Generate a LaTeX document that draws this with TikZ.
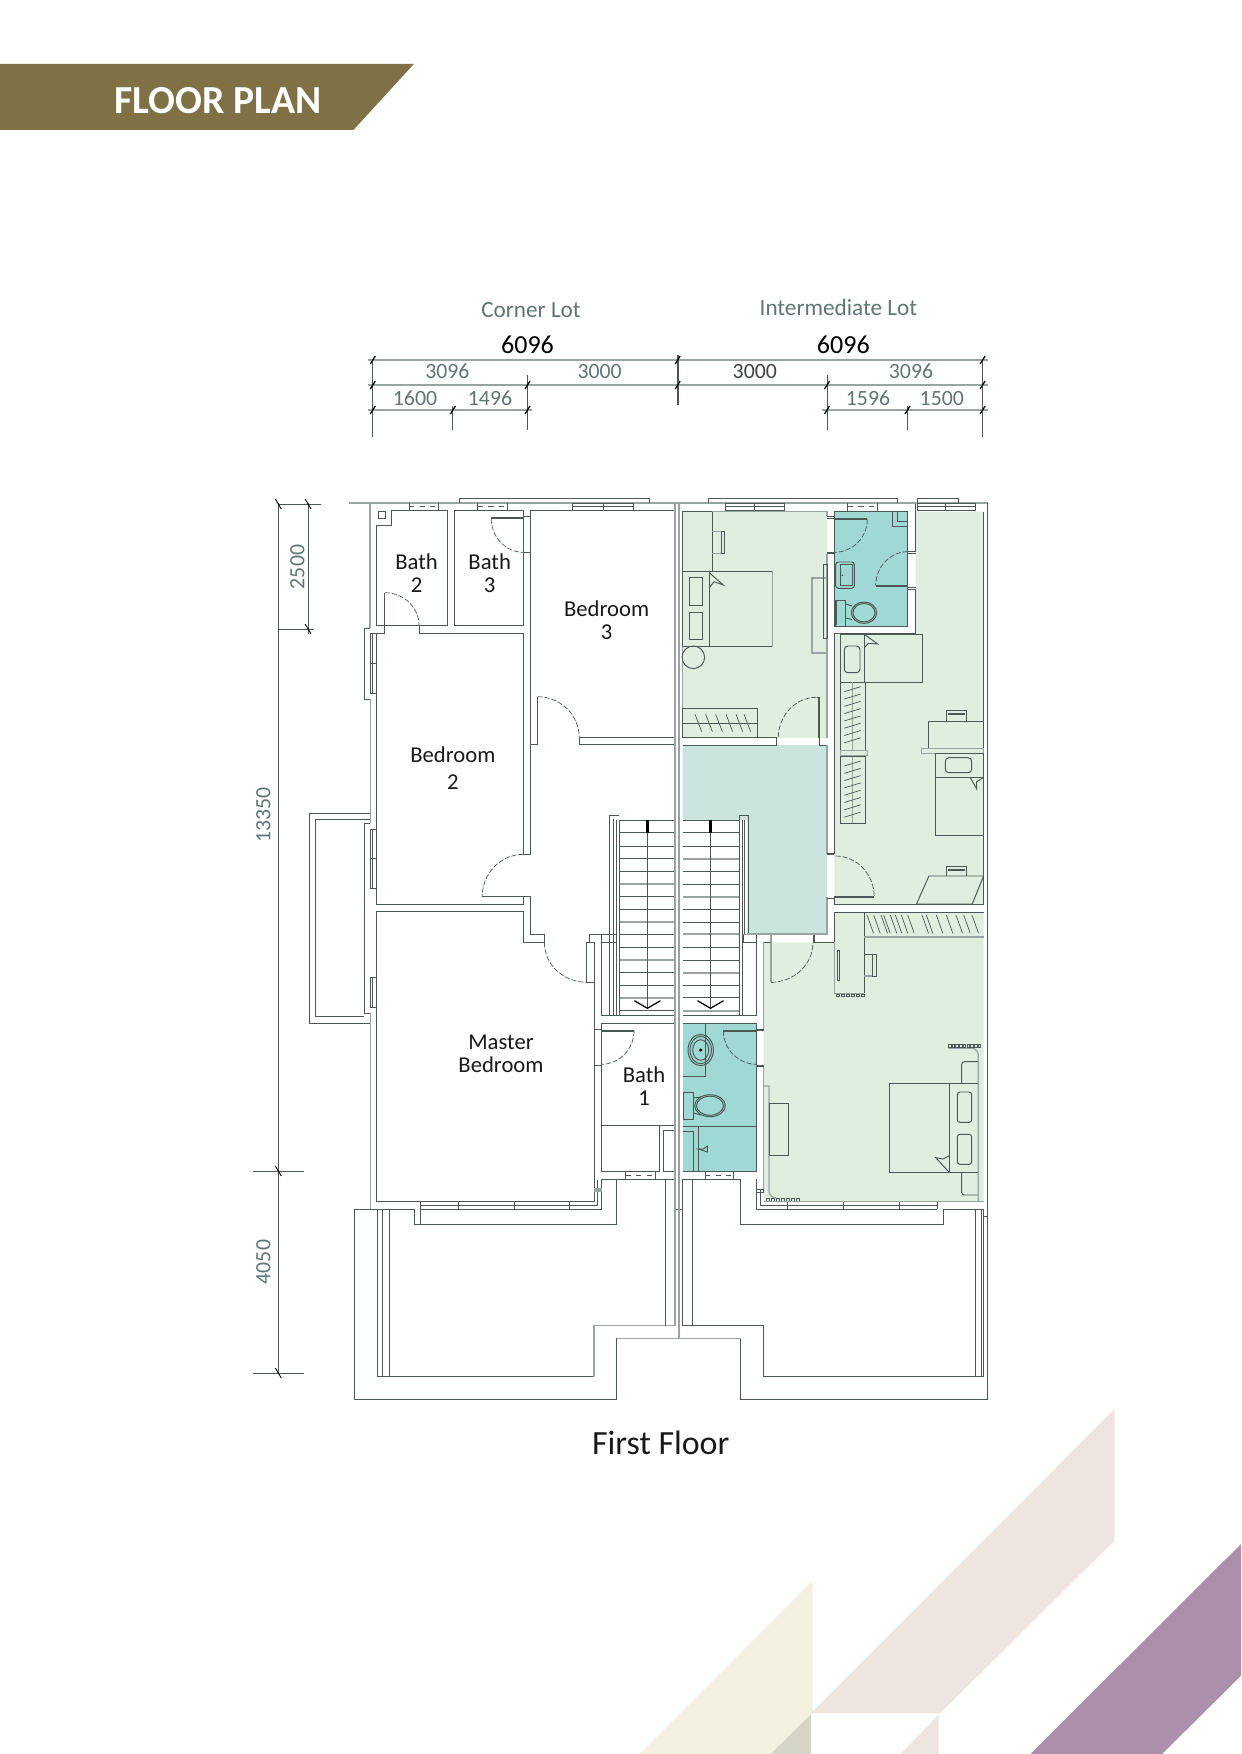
\documentclass[tikz,border=0pt]{standalone}
\usepackage{fontspec}
\setmainfont{Carlito}
\definecolor{bannergold}{HTML}{7F7145}
\definecolor{dimtextgrey}{HTML}{5F7576}
\definecolor{walldark}{HTML}{4A5856}
\definecolor{wallgrey}{HTML}{9AA5A1}
\definecolor{roomgreen}{HTML}{E0EEE0}
\definecolor{halltint}{HTML}{CCE4DE}
\definecolor{bathteal}{HTML}{A0D8D4}
\definecolor{decopink}{HTML}{EEE4E0}
\definecolor{decocream}{HTML}{F4F0DF}
\definecolor{decosage}{HTML}{D5D6C8}
\definecolor{decopurple}{HTML}{AB8FAB}
\begin{document}
\begin{tikzpicture}[x=0.02cm,y=-0.02cm,inner sep=0pt,outer sep=0pt,
wall/.style={draw=walldark,line width=.55pt},
greywall/.style={draw=wallgrey,line width=1pt},
thickleaf/.style={draw=walldark,line width=1.1pt},
doorarc/.style={draw=walldark,line width=.4pt,dash pattern=on 3pt off 1pt},
dimline/.style={draw=wallgrey,line width=1pt},
dimdrop/.style={draw=walldark,line width=.5pt},
dimtick/.style={draw=black,line width=.7pt},
dimtext/.style={text=dimtextgrey,text height=7.8pt,text depth=0pt,font=\fontsize{12.4}{14}\selectfont},
roomtext/.style={text=black!90,align=center,font=\fontsize{12.9}{13}\selectfont},
lottext/.style={text=dimtextgrey,font=\fontsize{13.2}{15}\selectfont}]
\useasboundingbox (0,0) rectangle (1241,1754);
% background shapes
\fill[decocream] (812.6,1580.7) -- (812.6,1713.3) -- (770.5,1754) -- (639.7,1754) -- cycle;
\fill[decopink] (1114.3,1409.3) -- (1114.3,1540.7) -- (940.1,1713.3) -- (810.9,1713.3) -- cycle;
\fill[decosage] (811,1714.3) -- (811,1754) -- (770.5,1754) -- cycle;
\fill[decopink] (938.5,1715) -- (938.5,1754) -- (900.5,1754) -- cycle;
\fill[decopurple] (1241,1544) -- (1241,1675.7) -- (1162,1754) -- (1030.5,1754) -- cycle;
% banner
\fill[bannergold] (0,63.8) -- (414,63.8) -- (353.6,129.8) -- (0,129.8) -- cycle;
\node[text=white,font=\bfseries\fontsize{22.6}{24}\selectfont] (bannertext) at (218,100.5) {FLOOR PLAN};
% room tints
\fill[roomgreen] (682.7,511.7) rectangle (827,737.7);
\fill[roomgreen] (915.7,511.7) -- (983.7,511.7) -- (983.7,904) -- (834.4,904) -- (834.4,634.3) -- (915.7,634.3) -- cycle;
\fill[roomgreen] (834.4,912.3) -- (983.7,912.3) -- (983.7,1201.7) -- (763.7,1201.7) -- (763.7,942.3) -- (834.4,942.3) -- cycle;
\fill[halltint] (682.7,745) -- (827,745) -- (827,934.3) -- (747.4,934.3) -- (747.4,820) -- (682.7,820) -- cycle;
\fill[bathteal] (834.4,511.7) rectangle (907.7,626.7);
\fill[bathteal] (682.7,1023.7) rectangle (756.7,1171.7);
% dimensions on top
\node[lottext] (cornerlot) at (531,310) {Corner Lot};
\node[lottext] (interlot) at (838.4,308) {Intermediate Lot};
\node[text=black,font=\fontsize{14.8}{16}\selectfont] (widthcorner) at (527.5,345) {6096};
\node[text=black,font=\fontsize{14.8}{16}\selectfont] (widthinter) at (843.3,345) {6096};
\node[dimtext] at (447.4,372) {3096};
\node[dimtext] at (599.6,372) {3000};
\node[dimtext,text=walldark!80!black] at (754.8,372) {3000};
\node[dimtext] at (911,372) {3096};
\node[dimtext] at (415,399) {1600};
\node[dimtext] at (490,399) {1496};
\node[dimtext] at (868,399) {1596};
\node[dimtext] at (941.8,399) {1500};
\draw[dimline] (368,360) -- (987.6,360);
\draw[dimline] (368,385) -- (987.6,385);
\draw[dimline] (368,410) -- (532,410);
\draw[dimline] (822,410) -- (987.6,410);
\draw[dimdrop] (372.8,360) -- (372.8,437);
\draw[dimdrop] (452.9,406) -- (452.9,430);
\draw[dimdrop] (527.5,375) -- (527.5,430);
\draw[dimdrop,line width=1pt] (677.7,355) -- (677.7,405);
\draw[dimdrop] (827,375) -- (827,430);
\draw[dimdrop] (907.5,406) -- (907.5,430);
\draw[dimdrop] (982.6,360) -- (982.6,437);
\foreach \tx/\ty in {372.8/360,677.7/360,982.6/360,372.8/385,527.5/385,677.7/385,827/385,982.6/385,372.8/410,452.9/410,527.5/410,827/410,907.5/410,982.6/410}
  \draw[dimtick] (\tx-2.5,\ty+4) -- (\tx+2.5,\ty-4);
% dimensions on the left
\draw[dimdrop] (278.3,503) -- (278.3,1373);
\draw[dimdrop] (308.1,503) -- (308.1,634);
\draw[dimdrop] (278.3,504) -- (320.6,504);
\draw[dimdrop] (278.3,629) -- (313.6,629);
\draw[dimdrop] (253,1171) -- (303.7,1171);
\draw[dimdrop] (253,1373) -- (303.7,1373);
\foreach \tx/\ty in {278.3/504,308.1/504,308.1/629,278.3/1171,278.3/1373}
  \draw[dimtick,line width=.5pt] (\tx-3,\ty-5) -- (\tx+3,\ty+5);
\node[dimtext,rotate=90] at (297.5,567) {2500};
\node[dimtext,rotate=90] at (263.5,815) {13350};
\node[dimtext,rotate=90] at (263.5,1262) {4050};
% outer walls
\draw[greywall] (349.4,503) -- (370.3,503) -- (370.3,628.3);
\draw[greywall] (370.3,503) -- (987.6,503);
\draw[wall] (987.6,503) -- (987.6,1399.3) -- (740.9,1399.3) -- (740.9,1338.3);
\draw[wall] (983.7,511.7) -- (983.7,904);
\draw[greywall,line width=.7pt] (370.3,699) -- (370.3,823.3);
\draw[greywall,line width=.7pt] (370.3,1013.3) -- (370.3,1209.3);
% bumps and windows on the left wall
\draw[wall] (370.3,628.3) -- (364.4,628.3) -- (364.4,699) -- (370.3,699);
\draw[wall] (370.3,823.3) -- (364.4,823.3) -- (364.4,1013.3) -- (370.3,1013.3);
\foreach \wa/\wb in {633.3/693.3,829/888.7,977.3/1007.7} {
  \draw[wall] (370.3,\wa) rectangle (376.8,\wb);
  \draw[wall,line width=.4pt] (372.8,\wa) -- (372.8,\wb);
}
\foreach \wy in {663.3,858.3}
  \draw[wall] (370.3,\wy) -- (376.8,\wy);
% balcony
\draw[wall] (370.3,813.3) -- (309.6,813.3) -- (309.6,1023.3) -- (370.3,1023.3);
\draw[wall] (370.3,819.3) -- (315.6,819.3) -- (315.6,1016.7) -- (364.4,1016.7);
% top windows
\draw[wall] (459.4,503) -- (459.4,498.3) -- (649.4,498.3) -- (649.4,503);
\draw[wall] (708.6,503) -- (708.6,498.3) -- (897.6,498.3) -- (897.6,503);
\draw[wall] (917.5,503) -- (917.5,498.3) -- (958.7,498.3) -- (958.7,503);
\foreach \wa/\wb in {572.8/633,725/784.6,917.5/975} {
  \draw[wall] (\wa,503) rectangle (\wb,510.7);
  \draw[wall,line width=.4pt] (\wa,506.5) -- (\wb,506.5);
}
\foreach \wx in {603,754.8,945.3}
  \draw[wall] (\wx,503) -- (\wx,510.7);
\foreach \wa/\wb in {409/438,477.8/507.6,847.8/877.7} {
  \draw[wall] (\wa,503) -- (\wa,510.7);
  \draw[wall] (\wb,503) -- (\wb,510.7);
  \draw[wall,line width=.4pt,dashed] (\wa,506.5) -- (\wb,506.5);
}
% bath 2, bath 3, bedroom 3
\draw[wall] (391.7,510.7) -- (447.4,510.7) -- (447.4,625.3) -- (376.8,625.3) -- (376.8,525) -- (391.7,525) -- cycle;
\draw[wall] (378,511) rectangle (385,518.3);
\draw[wall] (454.9,510.7) rectangle (523.5,625.3);
\draw[wall] (530.5,744.3) -- (530.5,510.7) -- (675.2,510.7) -- (675.2,737.3) -- (579.2,737.3) -- (579.2,744.3) -- (675.2,744.3);
\draw[wall] (530.5,744.3) -- (537.5,744.3) -- (537.5,696.7);
\draw[thickleaf] (491.2,518.3) -- (523.5,518.3);
\draw[doorarc] (491.2,518.3) to[out=270,in=180] (523.5,552.3);
\draw[wall] (523.5,516) -- (530.5,516);
\draw[wall] (523.5,552.3) -- (530.5,552.3);
\draw[doorarc] (384.8,592.7) to[out=0,in=90] (419,625.3);
\draw[doorarc] (537.5,696.7) to[out=0,in=90] (579.2,737.3);
% bedroom 2
\draw[wall] (384.8,592.7) -- (384.8,633.3) -- (376.8,633.3) -- (376.8,904) -- (523.5,904) -- (523.5,896.7) -- (482.2,896.7);
\draw[wall] (419,625.3) -- (419,633.3) -- (523.5,633.3) -- (523.5,854.3) -- (530.5,854.3) -- (530.5,744.3);
\draw[doorarc] (523.5,854.3) to[out=180,in=90] (482.2,896.7);
% master bedroom
\draw[wall] (523.5,896.7) -- (530.5,896.7) -- (530.5,934.3) -- (544.4,934.3) -- (544.4,942.3) -- (523.5,942.3) -- (523.5,911.3) -- (376.8,911.3) -- (376.8,1201.7) -- (594.1,1201.7) -- (594.1,942.3) -- (586.7,942.3) -- (586.7,982.3) -- (594.1,982.3);
\draw[wall] (589,942.3) -- (589,934.3) -- (613,934.3);
\draw[doorarc] (544.4,942.3) to[out=270,in=180] (586.7,982.3);
\draw[wall] (597,1180) -- (597,1205.3) -- (420,1205.3);
\draw[wall] (420,1201.7) -- (420,1209.3) -- (601.6,1209.3) -- (601.6,1179) -- (675.2,1179);
\draw[greywall,line width=2pt] (594.1,1190) -- (601.6,1190);
\foreach \wx in {458.4,514.6,569.8}
  \draw[wall] (\wx,1201.7) -- (\wx,1209.3);
% stairs
\foreach \ty in {820,832.7,846,858.7,871,896.7,909.3,934.3,947,972.7,985.3,1010.7}
  \draw[wall] (619,\ty) -- (675.2,\ty);
\foreach \ty in {884,922,960,997.7}
  \draw[greywall] (619,\ty) -- (675.2,\ty);
\foreach \ty in {820,832.7,846,871,884,909.3,922,947,960,985.3,997.7}
  \draw[wall] (682.7,\ty) -- (738.9,\ty);
\foreach \ty in {858.7,896.7,934.3,972.7,1010.7}
  \draw[greywall] (682.7,\ty) -- (738.9,\ty);
\foreach \sx/\sy in {609.6/815.3,613/819,616.5/820,619/820,738.9/820,742.4/820}
  \draw[wall,line width=.45pt] (\sx,\sy) -- (\sx,1015.3);
\draw[wall] (609.6,934.3) -- (609.6,815.3) -- (619,815.3);
\draw[wall] (739.4,820) -- (739.4,815.5) -- (748.4,815.5) -- (748.4,934.3);
\draw[wall] (744.4,820) -- (744.4,934.3);
\foreach \mx in {647.4,710.5} {
  \draw[wall,line width=.45pt] (\mx,820) -- (\mx,1008.3);
  \draw[draw=black,line width=.7pt] (\mx-13,1000.7) -- (\mx,1008.3) -- (\mx+13,1000.7);
  \fill[black] (\mx-1.5,820) rectangle (\mx+1.5,833);
}
\draw[wall] (601.1,934.3) rectangle (616.5,942.3);
\draw[wall] (594.1,942.3) -- (594.1,1023.3);
\draw[wall] (601.1,942.3) -- (601.1,1015.3) -- (675.2,1015.3);
\draw[wall] (682.7,1015.3) -- (756.3,1015.3) -- (756.3,942.3);
\draw[wall] (743.3,934.3) rectangle (756.3,942.3);
% bath 1
\draw[wall] (601.1,1023.3) rectangle (675.2,1125.7);
\draw[wall] (601.1,1125.7) rectangle (659.3,1171.3);
\draw[wall] (663.8,1130) rectangle (675.2,1171.3);
\draw[thickleaf] (601.1,1030.7) -- (634,1030.7);
\draw[doorarc] (634,1030.7) to[out=270,in=0] (601.1,1064.3);
\draw[wall] (594.1,1029) -- (601.1,1029);
\draw[wall] (594.1,1065) -- (601.1,1065) ;
\draw[wall] (625.5,1171.3) -- (625.5,1179);
\draw[wall] (655,1171.3) -- (655,1179);
\draw[wall,dashed,line width=.4pt] (625.5,1175) -- (655,1175);
% right half walls
\draw[wall] (682.7,511.7) rectangle (712.3,571);
\draw[greywall,line width=.7pt] (712.3,511.7) -- (827,511.7) -- (827,516);
\draw[greywall,line width=.7pt] (682.7,571) -- (682.7,737.7);
\draw[greywall,line width=.7pt] (827,554) -- (827,737.7);
\draw[wall] (682.7,737.7) -- (776.7,737.7) -- (776.7,745);
\draw[wall] (682.7,745) -- (776.7,745);
\draw[wall] (818.7,697.3) -- (816.7,697.3);
\draw[thickleaf] (818.7,697.3) -- (818.7,737.7);
\draw[wall] (819.3,737.7) -- (819.3,745) -- (826.7,745);
\draw[doorarc] (816.7,697.3) to[out=180,in=90] (778.3,737.7);
\draw[greywall] (827,745) -- (827,854.3);
\draw[greywall] (827,897) -- (827,934.3) -- (747.4,934.3);
% bed, chair, stand in room one
\draw[wall] (682.3,571) rectangle (709.3,646.7);
\draw[wall] (709.3,571) -- (772.3,571);
\draw[wall] (709.3,646.7) -- (772.3,646.7);
\draw[greywall,line width=.8pt] (772.3,571) -- (772.3,646.7);
\draw[wall] (689.3,577.3) rectangle (702.7,605.7);
\draw[wall] (689.3,612.3) rectangle (702.7,639.7);
\draw[wall] (709.3,572.7) -- (723.3,585) -- (714,581.7) -- (709.3,587.7);
\draw[wall] (693.3,657.3) circle [radius=11.3];
\draw[greywall,line width=.7pt] (712.3,531.7) -- (721.7,531.7) -- (721.7,553.3) -- (712.3,553.3);
\draw[wall] (721.7,531.7) rectangle (724.3,553.3);
\draw[wall] (682.3,708.3) rectangle (757,737.7);
\draw[wall] (682.3,723.3) -- (757,723.3);
\foreach \hx in {695,705.7,715.7,726,736,744}
  \draw[wall,line width=.4pt] (\hx,714.3) -- (\hx+6.7,731.7);
\draw[greywall] (811.7,578.3) rectangle (827,653.3);
\draw[wall] (823.3,564) rectangle (827,638.3);
% upper bath
\draw[wall] (834.4,511.7) -- (907.7,511.7) -- (907.7,626.7) -- (834.4,626.7) -- cycle;
\draw[wall] (827,516) -- (834.4,516);
\draw[wall] (827,518.5) -- (834.4,518.5);
\draw[thickleaf,line width=1.4pt] (827,553) -- (834.4,553);
\draw[thickleaf,line width=1.3pt] (834.4,519.3) -- (867.3,519.3);
\draw[doorarc] (867.3,519.3) to[out=270,in=0] (834.4,552.3);
\draw[thickleaf,line width=1.3pt] (875.7,585.7) -- (907.7,585.7);
\draw[doorarc] (907.7,551.7) to[out=180,in=90] (875.7,585.7);
\draw[wall] (907.7,551) -- (915.7,551);
\draw[wall] (907.7,553) -- (915.7,553);
\draw[wall] (907.7,587) -- (915.7,587);
\draw[wall] (907.7,589) -- (915.7,589);
\draw[wall] (892.3,511.7) -- (892.3,526) -- (907.7,526);
\draw[wall] (897.3,511.7) -- (897.3,521.7) -- (907.7,521.7);
\draw[wall,rounded corners=1.5pt] (835.7,562) rectangle (854.3,588.3);
\draw[wall] (840,564.7) rectangle (852.7,585.7);
\fill[walldark] (842.3,575.3) circle [radius=.9];
\draw[wall] (835,600) rectangle (845.7,626);
\draw[wall] (836.5,601) -- (836.5,625);
\draw[wall] (864,612.7) ellipse [x radius=12.7,y radius=10.7];
\draw[wall] (864,612.7) ellipse [x radius=11,y radius=9.2];
\draw[wall] (845.7,604) -- (852,606);
\draw[wall] (845.7,618) -- (852,619.5);
\draw[wall] (915.7,503.7) -- (915.7,551);
\draw[wall] (915.7,589) -- (915.7,633.3);
\draw[wall] (834.4,633.3) -- (915.7,633.3);
% room two
\draw[wall] (834.4,633.3) -- (834.4,854.3);
\draw[wall] (834.4,897) -- (834.4,904) -- (983.7,904);
\draw[wall] (840.3,634.3) rectangle (864.3,682.3);
\draw[wall] (864.3,634.3) -- (922.3,634.3) -- (922.3,682.3) -- (864.3,682.3);
\draw[wall,rounded corners=2pt] (844.3,646) rectangle (860,672.7);
\draw[wall] (864.3,634.3) -- (877.7,644) -- (868.3,643.3) -- (864.3,647.7);
\draw[wall] (840.3,682.3) rectangle (865.7,750.3);
\draw[wall] (840.3,756.7) rectangle (865.7,823.3);
\draw[greywall,line width=.7pt] (840.3,750.3) rectangle (867.3,755.7);
\draw[greywall,line width=.7pt] (852.7,682.3) -- (852.7,750.3);
\draw[greywall,line width=.7pt] (852.7,756.7) -- (852.7,823.3);
\foreach \hy in {691.7,699,...,745}
  \draw[wall,line width=.4pt] (844.3,\hy) -- (860.7,\hy-5);
\foreach \hy in {766,773.3,...,819}
  \draw[wall,line width=.4pt] (844.3,\hy) -- (860.7,\hy-5);
\draw[wall] (928.3,748.3) -- (928.3,721) -- (983.7,721);
\draw[wall] (946.3,721) -- (946.3,710) -- (966.3,710) -- (966.3,721);
\draw[thickleaf,line width=.8pt] (948,714) -- (965,714);
\draw[greywall,line width=.7pt] (921.7,748.3) rectangle (983.7,753.3);
\draw[wall] (983.7,753.3) -- (935.3,753.3) -- (935.3,835.7) -- (983.7,835.7);
\draw[wall] (935.3,777.3) -- (983.7,777.3);
\draw[wall,rounded corners=2pt] (945.3,757.7) rectangle (971.7,772.7);
\draw[wall] (970,777.3) -- (976.7,789) -- (976.7,781.7) -- (983.7,777.3);
\draw[wall] (928.9,876) -- (983.6,876) -- (972.2,904) -- (916.5,904) -- cycle;
\draw[wall] (946.3,876) -- (946.3,866) -- (966.2,866) -- (966.2,876);
\draw[thickleaf,line width=.8pt] (948,870) -- (965,870);
\draw[thickleaf,line width=1.3pt] (834.4,854.3) -- (827,854.3);
\draw[doorarc] (835.4,856) to[out=0,in=90] (874.2,896.7);
\draw[thickleaf] (834.4,896.7) -- (874.2,896.7);
\draw[wall] (827,898) -- (834.4,898);
% master room on the right
\draw[wall] (834.4,942.3) -- (834.4,912.3) -- (983.7,912.3);
\draw[greywall,line width=.7pt] (834.4,942.3) -- (834.4,993.3) -- (864.3,993.3);
\draw[wall] (864.3,912.3) -- (864.3,993.3);
\draw[greywall] (864.3,937.3) -- (983.7,937.3);
\foreach \hx in {870,876.7,884,886.7,893.3,898.3,904.3,910.7,925,929.3,939.3,949.3,959,966.7,975}
  \draw[wall,line width=.4pt] (\hx-3,915) -- (\hx+3.5,933.3);
\draw[wall] (837.3,950) rectangle (839.7,980.7);
\draw[wall] (864.3,954) -- (872.7,954);
\draw[greywall,line width=.7pt] (864.3,976) -- (872.7,976);
\draw[wall] (872.7,954) rectangle (876.7,976);
\foreach \qx in {836,841,846,851,856,861}
  \draw[wall,line width=.35pt] (\qx,993.8) rectangle (\qx+3,996.3);
\draw[greywall] (771,935) -- (771,982.3);
\draw[wall] (771,982.3) -- (773,982.3);
\draw[doorarc] (771,982.3) to[out=0,in=270] (813,942.3);
\draw[wall] (763.7,942.3) -- (771,942.3);
\draw[greywall] (743.3,934.6) -- (771,934.6);
\draw[wall] (813,935) rectangle (814.7,942.3);
\draw[wall] (814.7,942.3) -- (834.4,942.3);
\draw[greywall,line width=.6pt] (763.7,942.3) -- (763.7,1029);
\draw[greywall,line width=.6pt] (763.7,1066.3) -- (763.7,1190);
% teal bath below
\draw[wall] (682.7,1023.7) -- (756.7,1023.7) -- (756.7,1171.7) -- (682.7,1171.7);
\draw[thickleaf,line width=1.1pt] (723.3,1030.7) -- (756.7,1030.7);
\draw[doorarc] (723.3,1030.7) to[out=270,in=180] (756.7,1064.3);
\draw[wall] (756.7,1029) rectangle (763.7,1030.7);
\draw[wall] (756.7,1065) rectangle (763.7,1066.3);
\draw[wall] (705.7,1023.7) -- (705.7,1076.7) -- (682.7,1076.7);
\draw[wall] (700.7,1050) ellipse [x radius=12.7,y radius=15.7];
\draw[wall] (700.7,1050) ellipse [x radius=10.7,y radius=13.7];
\draw[wall] (700.7,1050) ellipse [x radius=8,y radius=10.3];
\fill[black] (700.7,1050) circle [radius=1.7];
\draw[wall] (683.3,1092.3) rectangle (693.3,1119);
\draw[wall] (710,1105.7) ellipse [x radius=15.3,y radius=11];
\draw[wall] (710,1105.7) ellipse [x radius=13.5,y radius=9.5];
\draw[wall] (693.3,1098) -- (701,1097);
\draw[wall] (693.3,1113) -- (701,1115);
\draw[wall] (682.7,1126.3) -- (756.7,1126.3);
\draw[wall] (698.3,1126.3) -- (698.3,1171.7);
\draw[wall] (682.7,1131.3) -- (693.3,1131.3) -- (693.3,1171.7);
\draw[wall] (698.3,1149) -- (703.3,1149) -- (707.5,1146) -- (707.5,1152) -- cycle;
\draw[wall] (705,1171.7) -- (705,1179);
\draw[wall] (733.3,1171.7) -- (733.3,1179);
\draw[wall,dashed,line width=.4pt] (705,1175) -- (733.3,1175);
% furniture in the master room
\draw[greywall,line width=.7pt] (763.7,1086) -- (769,1086) -- (769,1191) to[out=270,in=180] (776,1198);
\draw[wall] (769,1103.3) rectangle (788.7,1155.7);
\foreach \qx in {766,771,776,781,786,791,796}
  \draw[wall,line width=.35pt] (\qx,1198) rectangle (\qx+3.2,1201.2);
\draw[wall] (889.3,1083.3) rectangle (949.3,1172.3);
\draw[wall] (949.3,1083.3) -- (978.3,1083.3);
\draw[wall] (949.3,1172.3) -- (978.3,1172.3);
\draw[wall,rounded corners=1.5pt] (957.3,1092) rectangle (971.7,1122.3);
\draw[wall,rounded corners=1.5pt] (957.3,1134.3) rectangle (971.7,1164.3);
\draw[wall] (949.3,1172.3) -- (935.7,1157.7) -- (943,1159) -- (949.3,1155.7);
\draw[wall,rounded corners=1.5pt] (978.3,1061.7) -- (961.7,1061.7) -- (961.7,1083.3);
\draw[wall,rounded corners=1.5pt] (961.7,1172.3) -- (961.7,1195) -- (978.3,1195);
\draw[greywall,line width=.7pt] (978.3,1201) -- (978.3,1055) to[out=90,in=0] (971.7,1048.3) -- (948.3,1048.3);
\foreach \qx in {948.3,952,955.7,959.4,963.1,966.8,970.5,974.2,977.9}
  \draw[wall,line width=.35pt] (\qx,1044) rectangle (\qx+2.6,1047);
\draw[greywall,line width=.7pt] (763.7,1201.7) -- (983.7,1201.7);
% back walls and terraces on the right
\draw[wall] (682.7,1179) -- (740.9,1179) -- (740.9,1224.3) -- (943.3,1224.3) -- (943.3,1209.3) -- (983.6,1209.3) -- (983.6,1376.7) -- (763.3,1376.7) -- (763.3,1325.7) -- (682.7,1325.7) -- cycle;
\draw[wall] (692.6,1179) -- (692.6,1325.7);
\draw[wall] (975,1209.3) -- (975,1376.7);
\draw[wall] (981,1209.3) -- (981,1376.7);
\draw[wall] (983.6,1216) -- (987.6,1216);
\draw[wall] (756.7,1179) -- (756.7,1209.3) -- (937.4,1209.3);
\draw[wall] (760.8,1190) -- (760.8,1205.3) -- (937.4,1205.3);
\foreach \wx in {787.6,843.4,899.6,937.4}
  \draw[wall] (\wx,1202) -- (\wx,1209.3);
\draw[wall] (756.7,1189) rectangle (763.7,1192);
\draw[wall] (676,1209.3) -- (682.7,1209.3);
% terrace on the left, outer kerb
\draw[wall] (601.6,1179) -- (616.5,1179) -- (616.5,1224.3) -- (420,1224.3);
\draw[wall] (420,1209.3) -- (420,1224.3) -- (414.6,1224.3) -- (414.6,1209.3) -- (354.9,1209.3) -- (354.9,1399.3) -- (616.5,1399.3) -- (616.5,1338.3);
\draw[greywall,line width=.7pt] (616.5,1338.3) -- (740.9,1338.3);
\draw[wall] (414.6,1209.3) -- (377.3,1209.3) -- (377.3,1376.7) -- (594.1,1376.7);
\draw[wall] (382.3,1209.3) -- (382.3,1376.7);
\draw[wall] (389.7,1209.3) -- (389.7,1376.7);
\draw[greywall,line width=.8pt] (594.1,1376.7) -- (594.1,1325.7) -- (675.2,1325.7);
\draw[wall] (665.3,1179) -- (665.3,1325.7);
% party wall
\draw[greywall] (675.2,503) -- (675.2,1325.7);
\draw[greywall] (679.2,503) -- (679.2,1338.3);
% labels
\node[roomtext] (bathtwo) at (416.6,573.5) {Bath\\2};
\node[roomtext] (baththree) at (489.7,573.5) {Bath\\3};
\node[roomtext] (bedroomthree) at (606.6,620.5) {Bedroom\\3};
\node[roomtext] (bedroomtwo) at (452.9,768) {Bedroom\\[2pt]2};
\node[roomtext] (masterbed) at (501,1053.7) {Master\\Bedroom};
\node[roomtext] (bathone) at (644,1085.8) {Bath\\1};
\node[text=black!90,font=\fontsize{19.3}{20}\selectfont] (floortitle) at (660.8,1443) {First Floor};
\end{tikzpicture}
\end{document}
